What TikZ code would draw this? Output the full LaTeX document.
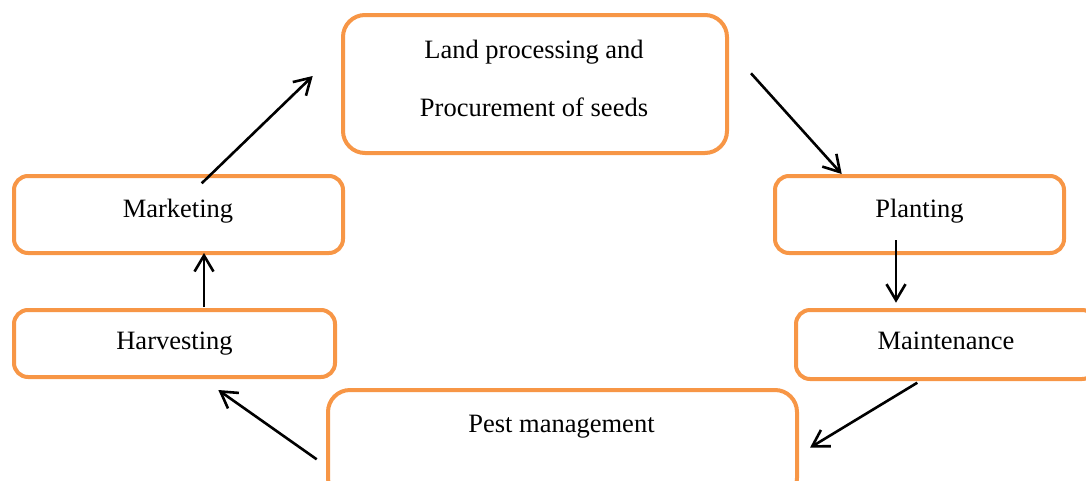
\documentclass[tikz,border=0pt]{standalone}
\usepackage{fontspec}
\setmainfont{Liberation Serif}
\usetikzlibrary{arrows.meta}
\definecolor{boxorange}{HTML}{F79646}
\begin{document}
\begin{tikzpicture}[x=1pt,y=-1pt,
  stagebox/.style={draw=boxorange,line width=4pt,rounded corners=14pt,fill=white,inner sep=0pt},
  bigbox/.style={stagebox,rounded corners=22pt},
  lbl/.style={font=\fontsize{26.5}{32}\selectfont,inner sep=0pt,anchor=base},
  flow/.style={line width=2.6pt,-{Straight Barb[length=16pt,width=19pt,line width=2.6pt]}}]
\useasboundingbox (0,0) rectangle (1086,480);
\clip (0,0) rectangle (1086,480);
% boxes
\node[bigbox,minimum width=384pt,minimum height=138pt] (land) at (535,84) {};
\node[stagebox,minimum width=329pt,minimum height=77pt] (mk) at (178.5,214.5) {};
\node[stagebox,minimum width=289pt,minimum height=77pt] (pl) at (919.5,214.5) {};
\node[stagebox,minimum width=321pt,minimum height=67pt] (hv) at (174.5,343.5) {};
\node[stagebox,minimum width=300pt,minimum height=69pt] (mt) at (946,344.5) {};
\node[bigbox,minimum width=469pt,minimum height=110pt] (pm) at (562.5,445) {};
% labels
\node[lbl] (t1) at (534,58) {Land processing and};
\node[lbl] (t2) at (534,116) {Procurement of seeds};
\node[lbl] (t3) at (178,217) {Marketing};
\node[lbl] (t4) at (919.5,217) {Planting};
\node[lbl] (t5) at (174.5,349) {Harvesting};
\node[lbl] (t6) at (946,349) {Maintenance};
\node[lbl] (t7) at (561.5,432) {Pest management};
% connector end points
\coordinate (a1s) at (201.7,183.3); \coordinate (a1e) at (312.7,76);
\coordinate (a2s) at (751,73.3);    \coordinate (a2e) at (841.7,174);
\coordinate (a3s) at (896,240);     \coordinate (a3e) at (896,302.7);
\coordinate (a4s) at (917.3,382.7); \coordinate (a4e) at (810,447.7);
\coordinate (a5s) at (316.7,459.3); \coordinate (a5e) at (218.3,390);
\coordinate (a6s) at (204,307);     \coordinate (a6e) at (204,253);
\draw[flow] (a1s) -- (a1e);
\draw[flow] (a2s) -- (a2e);
\draw[flow] (a3s) -- (a3e);
\draw[flow] (a4s) -- (a4e);
\draw[flow] (a5s) -- (a5e);
\draw[flow] (a6s) -- (a6e);
\end{tikzpicture}
\end{document}
